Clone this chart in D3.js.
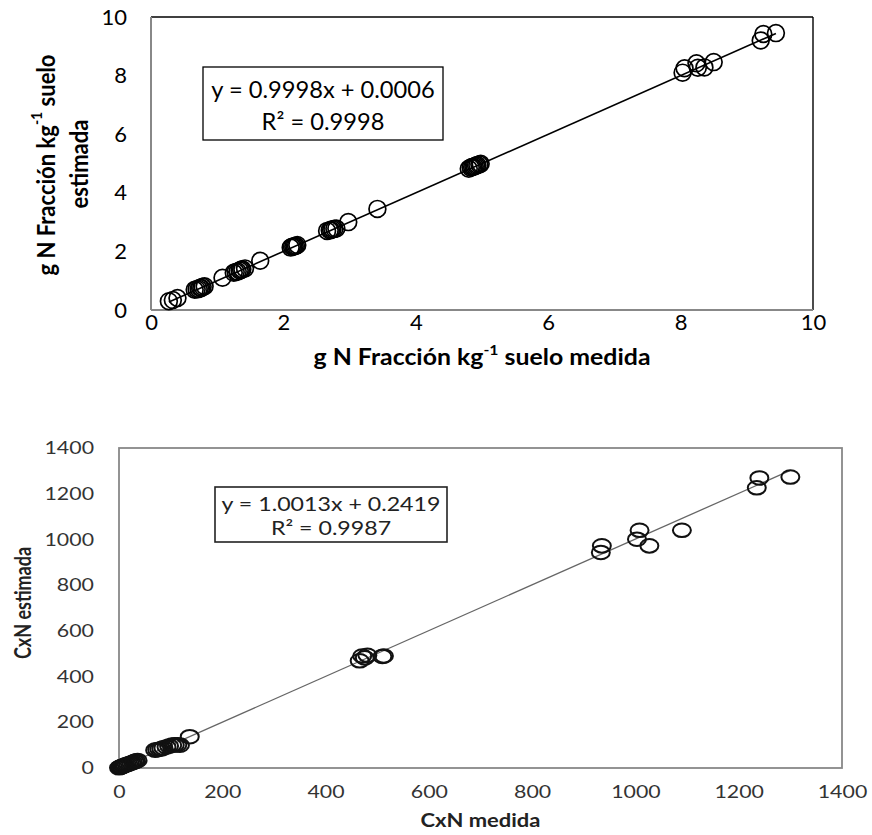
<!DOCTYPE html>
<html><head><meta charset="utf-8">
<script src="https://cdn.jsdelivr.net/npm/d3@7"></script>
<style>body{margin:0;background:#fff}</style></head>
<body><svg id="c" width="872" height="835" xmlns="http://www.w3.org/2000/svg"></svg>
<script>
// ---------- DATA: top chart (g N Fracción kg-1 suelo) ----------
const topMeasured  = [0.27,0.33,0.40,
                      0.66,0.69,0.72,0.74,0.76,0.78,0.81,
                      1.08,
                      1.25,1.28,1.31,1.34,1.36,1.38,1.42,
                      1.65,
                      2.11,2.13,2.15,2.17,2.19,2.21,
                      2.66,2.70,2.72,2.74,2.77,2.80,
                      2.98,3.42,
                      4.80,4.83,4.85,4.87,4.89,4.91,4.93,4.96,4.98,
                      8.03,8.06,8.24,8.26,8.36,8.50, 9.21,9.25,9.44];
const topEstimated = [0.30,0.34,0.41,
                      0.69,0.71,0.72,0.76,0.75,0.79,0.81,
                      1.10,
                      1.27,1.30,1.31,1.35,1.37,1.39,1.42,
                      1.68,
                      2.13,2.16,2.17,2.18,2.19,2.22,
                      2.70,2.72,2.73,2.76,2.77,2.78,
                      3.00,3.45,
                      4.82,4.86,4.88,4.89,4.91,4.93,4.95,4.97,4.99,
                      8.10,8.25,8.42,8.27,8.28,8.46, 9.20,9.42,9.45];
const topTicks = [0,2,4,6,8,10];
const topSlope = 0.9998, topIntercept = 0.0006;
const topEqLines = ["y = 0.9998x + 0.0006", "R² = 0.9998"];
const topYLabel1 = "g N Fracción kg", topYLabelSup = "-1", topYLabel1b = " suelo", topYLabel2 = "estimada";
const topXLabelA = "g N Fracción kg", topXLabelSup = "-1", topXLabelB = " suelo medida";

// ---------- DATA: bottom chart (CxN) ----------
const botMeasured  = [0,2,4,6,8,10,12,15,18,21,24,27,30,33,36,
                      70,74,78,82,86,92,97,103,108,113,118,
                      137,
                      466,471,476,481,510,513,
                      933,935,1003,1008,1027,1090,
                      1235,1240,1300];
const botEstimated = [1,3,5,6,9,10,13,15,17,20,22,25,28,30,33,
                      78,80,82,84,88,92,96,100,101,102,100,
                      137,
                      469,490,482,493,488,490,
                      943,972,1001,1040,972,1040,
                      1226,1269,1273];
const botTicks = [0,200,400,600,800,1000,1200,1400];
const botSlope = 1.0013, botIntercept = 0.2419;
const botEqLines = ["y = 1.0013x + 0.2419", "R² = 0.9987"];
const botXLabel = "CxN medida", botYLabel = "CxN estimada";

const svg = d3.select("#c");
const FONT = "Lato, 'Open Sans', sans-serif";

// ================= TOP CHART =================
const SXT = 1.13;
const xT = d3.scaleLinear().domain([0,10]).range([151,813]);
const yT = d3.scaleLinear().domain([0,10]).range([310,17]);
const gTop = svg.append("g");

gTop.append("rect").attr("x",xT(0)).attr("y",yT(10)).attr("width",xT(10)-xT(0)).attr("height",yT(0)-yT(10)).attr("fill","#fff");

const axT = gTop.append("g").attr("transform",`translate(0,${yT(0)})`)
  .call(d3.axisBottom(xT).tickValues(topTicks).tickSize(0).tickPadding(4).tickFormat(d3.format("d")));
axT.select(".domain").remove();
axT.attr("font-family",FONT).attr("font-size",22).selectAll("text").attr("fill","#000");

const ayT = gTop.append("g").attr("transform",`translate(${xT(0)},0)`)
  .call(d3.axisLeft(yT).tickValues(topTicks).tickSize(0).tickPadding(24).tickFormat(d3.format("d")));
ayT.select(".domain").remove();
ayT.attr("font-family",FONT).attr("font-size",22).selectAll("text").attr("fill","#000");

// frame
gTop.append("line").attr("x1",xT(0)).attr("x2",xT(10)).attr("y1",yT(10)).attr("y2",yT(10)).attr("stroke","#000").attr("stroke-width",1.4);
gTop.append("line").attr("x1",xT(10)).attr("x2",xT(10)).attr("y1",yT(10)).attr("y2",yT(0)).attr("stroke","#000").attr("stroke-width",1.4);
gTop.append("line").attr("x1",xT(0)).attr("x2",xT(0)).attr("y1",yT(10)).attr("y2",yT(0)).attr("stroke","#888").attr("stroke-width",2);
gTop.append("line").attr("x1",xT(0)).attr("x2",xT(10)).attr("y1",yT(0)).attr("y2",yT(0)).attr("stroke","#888").attr("stroke-width",2);

// trendline
const tx0 = d3.min(topMeasured), tx1 = d3.max(topMeasured);
gTop.append("line").attr("x1",xT(tx0)).attr("y1",yT(topSlope*tx0+topIntercept))
  .attr("x2",xT(tx1)).attr("y2",yT(topSlope*tx1+topIntercept)).attr("stroke","#000").attr("stroke-width",1.6);

gTop.append("g").selectAll("circle").data(d3.zip(topMeasured, topEstimated)).join("circle")
  .attr("cx",d=>xT(d[0])).attr("cy",d=>yT(d[1])).attr("r",8.4)
  .attr("fill","none").attr("stroke","#000").attr("stroke-width",1.7);

// equation box
gTop.append("rect").attr("x",203).attr("y",67).attr("width",240).attr("height",73)
  .attr("fill","#fff").attr("stroke","#000").attr("stroke-width",1.3);
gTop.append("g").selectAll("text").data(topEqLines).join("text")
  .attr("transform",(d,i)=>`translate(323,${89+i*32}) scale(1.03,1)`).attr("dominant-baseline","central").attr("text-anchor","middle")
  .attr("font-family",FONT).attr("font-size",23).attr("fill","#000").text(d=>d);

// x label
const xl = gTop.append("text").attr("transform",`translate(${(xT(0)+xT(10))/2},357) scale(${SXT},1)`).attr("dominant-baseline","central")
  .attr("text-anchor","middle").attr("font-family",FONT).attr("font-weight","bold").attr("font-size",22).attr("fill","#000");
xl.append("tspan").text(topXLabelA);
xl.append("tspan").attr("dy",-8).attr("font-size",14).text(topXLabelSup);
xl.append("tspan").attr("dy",8).text(topXLabelB);

// y label (two lines)
const yl1 = gTop.append("text").attr("transform",`translate(45,165) scale(${SXT},1) rotate(-90)`).attr("dominant-baseline","central")
  .attr("text-anchor","middle").attr("font-family",FONT).attr("font-weight","bold").attr("font-size",22).attr("fill","#000");
yl1.append("tspan").text(topYLabel1);
yl1.append("tspan").attr("dy",-8).attr("font-size",14).text(topYLabelSup);
yl1.append("tspan").attr("dy",8).text(topYLabel1b);
gTop.append("text").attr("transform",`translate(78,164) scale(${SXT},1) rotate(-90)`).attr("dominant-baseline","central")
  .attr("text-anchor","middle").attr("font-family",FONT).attr("font-weight","bold").attr("font-size",22).attr("fill","#000").text(topYLabel2);

// ================= BOTTOM CHART =================
const SX = 1.22;
const xB = d3.scaleLinear().domain([0,1400]).range([119,842]);
const yB = d3.scaleLinear().domain([0,1400]).range([768,448]);
const gBot = svg.append("g");

gBot.append("rect").attr("x",xB(0)).attr("y",yB(1400)).attr("width",xB(1400)-xB(0)).attr("height",yB(0)-yB(1400))
  .attr("fill","#fff").attr("stroke","#888").attr("stroke-width",1.8);

const axB = gBot.append("g").attr("transform",`translate(0,${yB(0)})`)
  .call(d3.axisBottom(xB).tickValues(botTicks).tickSize(0).tickPadding(18).tickFormat(d3.format("d")));
axB.select(".domain").remove();
axB.attr("font-family",FONT).attr("font-size",17.5).selectAll("text").attr("fill","#333").attr("transform",`scale(${SX},1)`);

const ayB = gBot.append("g").attr("transform",`translate(${xB(0)},0)`)
  .call(d3.axisLeft(yB).tickValues(botTicks).tickSize(0).tickPadding(0).tickFormat(d3.format("d")));
ayB.select(".domain").remove();
ayB.attr("font-family",FONT).attr("font-size",17.5).selectAll("text").attr("fill","#333")
  .attr("x",-25/SX).attr("transform",`scale(${SX},1)`);

const bx0 = 0, bx1 = d3.max(botMeasured);
gBot.append("line").attr("x1",xB(bx0)).attr("y1",yB(botSlope*bx0+botIntercept))
  .attr("x2",xB(bx1)).attr("y2",yB(botSlope*bx1+botIntercept)).attr("stroke","#666").attr("stroke-width",1.3);

gBot.append("g").selectAll("ellipse").data(d3.zip(botMeasured, botEstimated)).join("ellipse")
  .attr("cx",d=>xB(d[0])).attr("cy",d=>yB(d[1])).attr("rx",9).attr("ry",6.8)
  .attr("fill","none").attr("stroke","#111").attr("stroke-width",2);

gBot.append("rect").attr("x",215).attr("y",487).attr("width",232).attr("height",55)
  .attr("fill","#fff").attr("stroke","#222").attr("stroke-width",1.6);
gBot.append("g").selectAll("text").data(botEqLines).join("text")
  .attr("transform",(d,i)=>`translate(331,${504+i*24}) scale(${SX},1)`).attr("dominant-baseline","central").attr("text-anchor","middle")
  .attr("font-family",FONT).attr("font-size",19).attr("fill","#222").text(d=>d);

gBot.append("text").attr("transform",`translate(${(xB(0)+xB(1400))/2},820) scale(${SX},1)`).attr("dominant-baseline","central")
  .attr("text-anchor","middle").attr("font-family",FONT).attr("font-weight","bold").attr("font-size",18).attr("fill","#222").text(botXLabel);
gBot.append("text").attr("transform",`translate(22,603) scale(${SX},1) rotate(-90)`).attr("dominant-baseline","central")
  .attr("text-anchor","middle").attr("font-family",FONT).attr("font-weight","bold").attr("font-size",18).attr("fill","#222").text(botYLabel);
</script>
</body></html>
